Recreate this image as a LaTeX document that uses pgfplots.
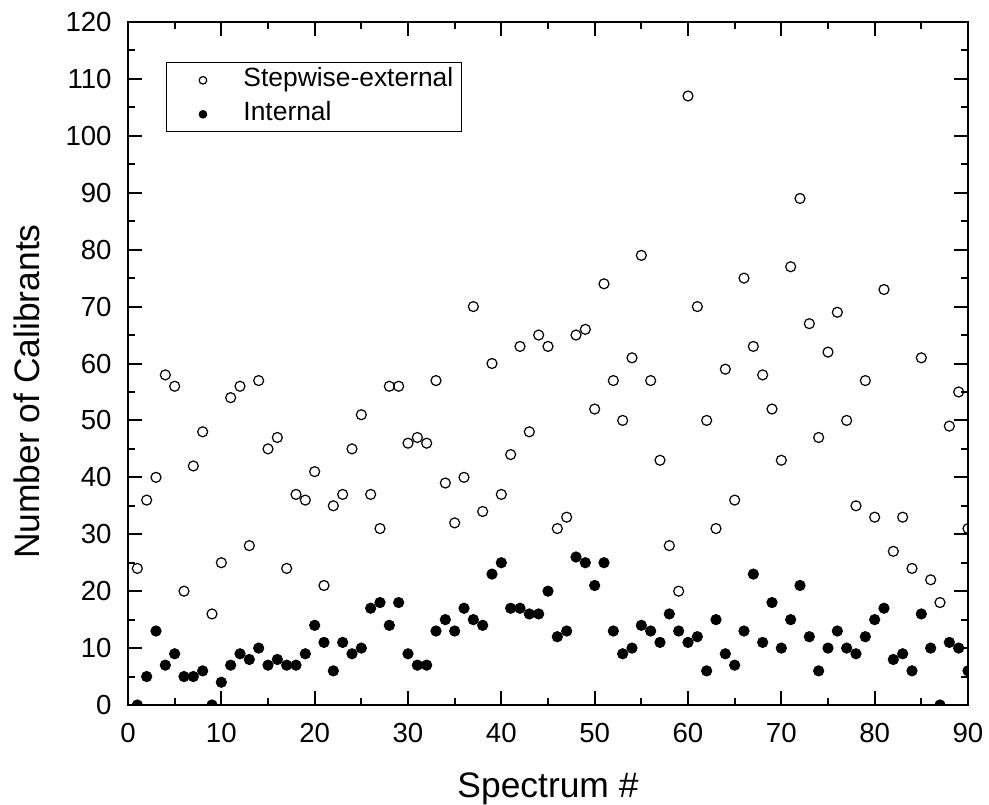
\documentclass[border=0pt]{standalone}
\usepackage{pgfplots}
\pgfplotsset{compat=1.18}
\usepackage{fontspec}
\setmainfont{Liberation Sans}
\begin{document}
\begin{tikzpicture}
\path[use as bounding box] (-64pt,-49.5pt) rectangle (430.5pt,352.5pt);
\begin{axis}[
  scale only axis,
  width=420pt, height=341.5pt,
  xmin=0, xmax=90, ymin=0, ymax=120,
  xtick={0,10,...,90}, ytick={0,10,...,120},
  minor x tick num=1, minor y tick num=1,
  tick align=inside,
  xtick pos=both, ytick pos=both,
  major tick length=7pt, minor tick length=3.7pt,
  axis line style={line width=1pt},
  every tick/.style={black, line width=1pt},
  /pgf/number format/assume math mode=true,
  tick label style={font=\fontsize{13.8}{16}\selectfont, inner sep=0pt},
  yticklabel style={anchor=east, xshift=-8pt},
  xticklabel style={anchor=north, yshift=-9pt},
  xlabel={Spectrum \#},
  ylabel={Number of Calibrants},
  label style={font=\fontsize{17.7}{21}\selectfont, inner sep=0pt},
  xlabel style={at={(axis description cs:0.5,0)}, anchor=north, yshift=-33.5pt},
  ylabel style={at={(axis description cs:-0.1369,0.459)}, anchor=north},
  clip marker paths=true,
  legend style={at={(rel axis cs:0.0452,0.941)}, anchor=north west,
    draw=black, line width=0.5pt, inner xsep=2pt, inner ysep=1.5pt,
    font=\fontsize{13.2}{15.8}\selectfont,
    row sep=2.5pt,
    nodes={inner ysep=1pt, inner xsep=2pt, text height=9.5pt, text depth=3pt}},
  legend cell align=left,
  legend image code/.code={\path (0pt,0pt) (34pt,0pt); \draw[#1, mark size=1.9pt] plot coordinates {(16pt,0pt)};},
]
\addplot[only marks, mark=o, mark size=2.5pt, mark options={line width=0.6pt, black}] coordinates {
(1,24)(2,36)(3,40)(4,58)(5,56)(6,20)(7,42)(8,48)(9,16)(10,25)
(11,54)(12,56)(13,28)(14,57)(15,45)(16,47)(17,24)(18,37)(19,36)(20,41)
(21,21)(22,35)(23,37)(24,45)(25,51)(26,37)(27,31)(28,56)(29,56)(30,46)
(31,47)(32,46)(33,57)(34,39)(35,32)(36,40)(37,70)(38,34)(39,60)(40,37)
(41,44)(42,63)(43,48)(44,65)(45,63)(46,31)(47,33)(48,65)(49,66)(50,52)
(51,74)(52,57)(53,50)(54,61)(55,79)(56,57)(57,43)(58,28)(59,20)(60,107)
(61,70)(62,50)(63,31)(64,59)(65,36)(66,75)(67,63)(68,58)(69,52)(70,43)
(71,77)(72,89)(73,67)(74,47)(75,62)(76,69)(77,50)(78,35)(79,57)(80,33)
(81,73)(82,27)(83,33)(84,24)(85,61)(86,22)(87,18)(88,49)(89,55)(90,31)
};
\addlegendentry{Stepwise-external}
\addplot[only marks, mark=*, mark size=2.6pt, mark options={black, fill=black}] coordinates {
(1,0)(2,5)(3,13)(4,7)(5,9)(6,5)(7,5)(8,6)(9,0)(10,4)
(11,7)(12,9)(13,8)(14,10)(15,7)(16,8)(17,7)(18,7)(19,9)(20,14)
(21,11)(22,6)(23,11)(24,9)(25,10)(26,17)(27,18)(28,14)(29,18)(30,9)
(31,7)(32,7)(33,13)(34,15)(35,13)(36,17)(37,15)(38,14)(39,23)(40,25)
(41,17)(42,17)(43,16)(44,16)(45,20)(46,12)(47,13)(48,26)(49,25)(50,21)
(51,25)(52,13)(53,9)(54,10)(55,14)(56,13)(57,11)(58,16)(59,13)(60,11)
(61,12)(62,6)(63,15)(64,9)(65,7)(66,13)(67,23)(68,11)(69,18)(70,10)
(71,15)(72,21)(73,12)(74,6)(75,10)(76,13)(77,10)(78,9)(79,12)(80,15)
(81,17)(82,8)(83,9)(84,6)(85,16)(86,10)(87,0)(88,11)(89,10)(90,6)
};
\addlegendentry{Internal}
\end{axis}
\end{tikzpicture}
\end{document}
